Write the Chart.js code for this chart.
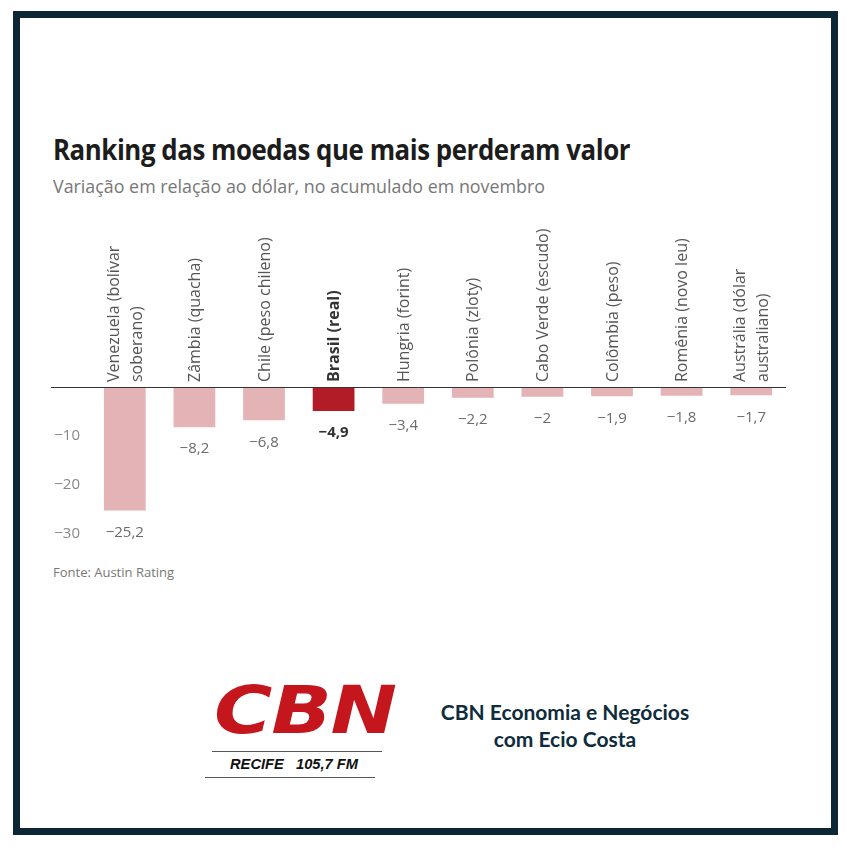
<!DOCTYPE html>
<html lang="pt-BR">
<head>
<meta charset="utf-8">
<title>Ranking das moedas que mais perderam valor</title>
<script src="https://cdn.jsdelivr.net/npm/chart.js@4.4.1/dist/chart.umd.min.js"></script>
<style>
  html, body { margin: 0; padding: 0; background: #fff; }
  body { width: 850px; height: 850px; position: relative; overflow: hidden; font-family: "Open Sans", sans-serif; }
  .moldura { position: absolute; left: 13px; top: 11px; width: 811px; height: 810px; border: 7px solid #0d2633; }
  .txt { position: absolute; white-space: nowrap; line-height: 1; transform-origin: left top; }
  #titulo { left: 53px; top: 134px; font-size: 29px; font-weight: 700; color: #1c1c1c; letter-spacing: -0.5px; }
  #subtitulo { left: 53px; top: 177px; font-size: 18px; color: #777; }
  #fonte { left: 53px; top: 566px; font-size: 13px; color: #777; }
  #grafico { position: absolute; left: 21px; top: 210px; width: 800px; height: 350px; }
  #cbn { left: 214px; top: 678px; font-family: "DejaVu Sans", sans-serif; font-size: 66px; font-weight: 700; font-style: italic; color: #c4161c; letter-spacing: -1px; }
  .traco { position: absolute; height: 0; border-top: 1.5px solid #555; }
  #recife { left: 230px; top: 756px; font-family: "Liberation Sans", sans-serif; font-size: 15px; font-weight: 700; font-style: italic; color: #111; }
  .programa { position: absolute; left: 400px; width: 330px; text-align: center; font-family: "Lato", sans-serif; font-size: 21px; font-weight: 700; color: #0f2c3c; line-height: 1; }
</style>
</head>
<body>
<div class="moldura"></div>

<div class="txt" id="titulo">Ranking das moedas que mais perderam valor</div>
<div class="txt" id="subtitulo">Variação em relação ao dólar, no acumulado em novembro</div>

<div id="grafico"><canvas id="rankingChart"></canvas></div>

<div class="txt" id="fonte">Fonte: Austin Rating</div>

<div class="txt" id="cbn">CBN</div>
<div class="traco" style="left:212px; top:751px; width:170px;"></div>
<div class="txt" id="recife">RECIFE&nbsp;&nbsp;&nbsp;105,7 FM</div>
<div class="traco" style="left:205px; top:777px; width:170px;"></div>
<div class="programa" style="top:701px;">CBN Economia e Negócios</div>
<div class="programa" style="top:728px;">com Ecio Costa</div>

<script>
// Dados: variação das moedas frente ao dólar (novembro)
const categorias = [
    ['Venezuela (bolívar', 'soberano)'],
    'Zâmbia (quacha)',
    'Chile (peso chileno)',
    'Brasil (real)',
    'Hungria (forint)',
    'Polônia (zloty)',
    'Cabo Verde (escudo)',
    'Colômbia (peso)',
    'Romênia (novo leu)',
    ['Austrália (dólar', 'australiano)']
];
const variacao = [-25.2, -8.2, -6.8, -4.9, -3.4, -2.2, -2, -1.9, -1.8, -1.7];
const destaque = 3; // Brasil
const ticksY = [-30, -20, -10, 0];

const corBarra = '#e4b3b5';
const corDestaque = '#b21c26';

function formatar(v) {
    const s = Math.abs(v).toString().replace('.', ',');
    return v < 0 ? '\u2212' + s : s;
}

// ajusta a largura de um texto ao tamanho do original
function ajustar(id, largura) {
    const el = document.getElementById(id);
    const w = el.getBoundingClientRect().width;
    el.style.transform = 'scaleX(' + (largura / w) + ')';
}

// linha do zero atravessando a área dos rótulos
const linhaZero = {
    id: 'linhaZero',
    afterDatasetsDraw(chart) {
        const y = chart.scales.y;
        const py = Math.round(y.getPixelForValue(0)) + 0.5;
        const ctx = chart.ctx;
        ctx.save();
        ctx.strokeStyle = '#333';
        ctx.lineWidth = 1;
        ctx.beginPath();
        ctx.moveTo(y.left, py);
        ctx.lineTo(chart.chartArea.right, py);
        ctx.stroke();
        ctx.restore();
    }
};

// nomes das moedas, na vertical, acima da linha do zero
const rotulosCategorias = {
    id: 'rotulosCategorias',
    afterDatasetsDraw(chart) {
        const x = chart.scales.x;
        const base = chart.scales.y.getPixelForValue(0) - 5;
        const ctx = chart.ctx;
        const entre = 23;
        ctx.save();
        ctx.textAlign = 'left';
        ctx.textBaseline = 'middle';
        chart.data.labels.forEach((rotulo, i) => {
            const linhas = Array.isArray(rotulo) ? rotulo : [rotulo];
            const forte = i === destaque;
            ctx.font = (forte ? 'bold ' : '') + '16px "Open Sans"';
            ctx.fillStyle = forte ? '#333' : '#555';
            const px = x.getPixelForValue(i) + 1;
            linhas.forEach((linha, j) => {
                const dx = (j - (linhas.length - 1) / 2) * entre;
                ctx.save();
                ctx.translate(px + dx, base);
                ctx.rotate(-Math.PI / 2);
                ctx.fillText(linha, 0, 0);
                ctx.restore();
            });
        });
        ctx.restore();
    }
};

// valores abaixo de cada barra
const rotulosValores = {
    id: 'rotulosValores',
    afterDatasetsDraw(chart) {
        const ctx = chart.ctx;
        const meta = chart.getDatasetMeta(0);
        ctx.save();
        ctx.textAlign = 'center';
        ctx.textBaseline = 'middle';
        meta.data.forEach((bar, i) => {
            const forte = i === destaque;
            ctx.font = (forte ? 'bold ' : '') + '15px "Open Sans"';
            ctx.fillStyle = forte ? '#333' : '#6b6b6b';
            ctx.fillText(formatar(variacao[i]), bar.x, bar.y + 22);
        });
        ctx.restore();
    }
};

document.addEventListener('DOMContentLoaded', function () {
    ajustar('titulo', 577);
    ajustar('subtitulo', 492);
    ajustar('cbn', 182);
    ajustar('recife', 128);

    const ctx = document.getElementById('rankingChart');
    if (!ctx) {
        console.error("Elemento 'rankingChart' não encontrado.");
        return;
    }

    new Chart(ctx.getContext('2d'), {
        type: 'bar',
        data: {
            labels: categorias,
            datasets: [{
                data: variacao,
                backgroundColor: variacao.map((v, i) => i === destaque ? corDestaque : corBarra),
                barPercentage: 0.6,
                categoryPercentage: 1
            }]
        },
        options: {
            responsive: true,
            maintainAspectRatio: false,
            animation: false,
            layout: {
                padding: { top: 177, left: 30, right: 35, bottom: 26 }
            },
            plugins: {
                legend: { display: false },
                tooltip: { enabled: false }
            },
            scales: {
                x: {
                    display: false
                },
                y: {
                    min: -30,
                    max: 0,
                    grid: { display: false, drawTicks: false },
                    border: { display: false },
                    afterFit: function (scale) { scale.width = 39; },
                    afterBuildTicks: function (scale) {
                        scale.ticks = ticksY.map(v => ({ value: v }));
                    },
                    ticks: {
                        padding: 10,
                        color: '#888',
                        font: { family: '"Open Sans"', size: 15 },
                        callback: v => v === 0 ? '' : formatar(v)
                    }
                }
            }
        },
        plugins: [linhaZero, rotulosCategorias, rotulosValores]
    });
});
</script>
</body>
</html>
